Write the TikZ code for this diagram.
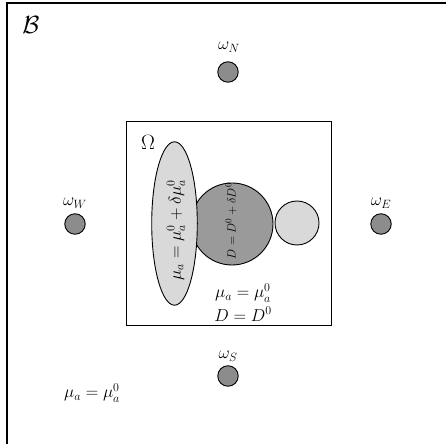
\documentclass[tikz,border=0pt]{standalone}
\usetikzlibrary{shapes.geometric}
\definecolor{lightg}{HTML}{D9D9D9}
\definecolor{midg}{HTML}{9A9A9A}
\definecolor{detg}{HTML}{8C8C8C}
\tikzset{
  detector/.style={circle,draw,fill=detg,minimum size=20.5pt,inner sep=0pt,line width=0.9pt},
  detlabel/.style={inner sep=0pt,font=\fontsize{17}{19}\selectfont},
  mainlabel/.style={inner sep=0pt,font=\fontsize{17}{20}\selectfont},
}
\begin{document}
\begin{tikzpicture}[x=1pt,y=1pt,line width=0.9pt]
\useasboundingbox (0,0) rectangle (446,444);
% outer domain B (only top and left edges visible)
\coordinate (bl) at (7,0);
\coordinate (tl) at (7,441);
\coordinate (tr) at (446,441);
\draw[line width=1.1pt] (bl) -- (tl) -- (tr);
\node[inner sep=0pt,font=\fontsize{23}{25}\selectfont] (Blab) at (31,419) {$\mathcal{B}$};
% inner domain Omega
\node[draw,minimum width=205pt,minimum height=204pt,inner sep=0pt] (Omega) at (228.5,221) {};
\node[inner sep=0pt,font=\fontsize{20}{22}\selectfont] (Omlab) at (148,302) {$\Omega$};
% inclusions
\node[circle,draw,fill=midg,minimum size=82pt,inner sep=0pt] (big) at (232,220) {};
\node[ellipse,draw,fill=lightg,minimum width=45.6pt,minimum height=163.4pt,inner sep=0pt] (ell) at (174.5,220.5) {};
\node[circle,draw,fill=lightg,minimum size=44pt,inner sep=0pt] (small) at (297,221) {};
\node[mainlabel,rotate=90] (elltxt) at (176,214) {$\mu_a=\mu_a^0+\delta\mu_a^0$};
\node[inner sep=0pt,rotate=90,font=\fontsize{13}{15}\selectfont] (bigtxt) at (231,223) {$D=D^0+\delta D^0$};
\node[mainlabel] (bg1) at (243,151) {$\mu_a=\mu_a^0$};
\node[mainlabel] (bg2) at (243,130) {$D=D^0$};
% detectors
\node[detector] (wN) at (228,372) {};
\node[detlabel] (lN) at (229,397) {$\omega_N$};
\node[detector] (wW) at (75,220) {};
\node[detlabel] (lW) at (75,241) {$\omega_W$};
\node[detector] (wE) at (381,220) {};
\node[detlabel] (lE) at (381,241) {$\omega_E$};
\node[detector] (wS) at (228,68) {};
\node[detlabel] (lS) at (228,88) {$\omega_S$};
% background value
\node[mainlabel] (bgB) at (92,51) {$\mu_a=\mu_a^0$};
\end{tikzpicture}
\end{document}
